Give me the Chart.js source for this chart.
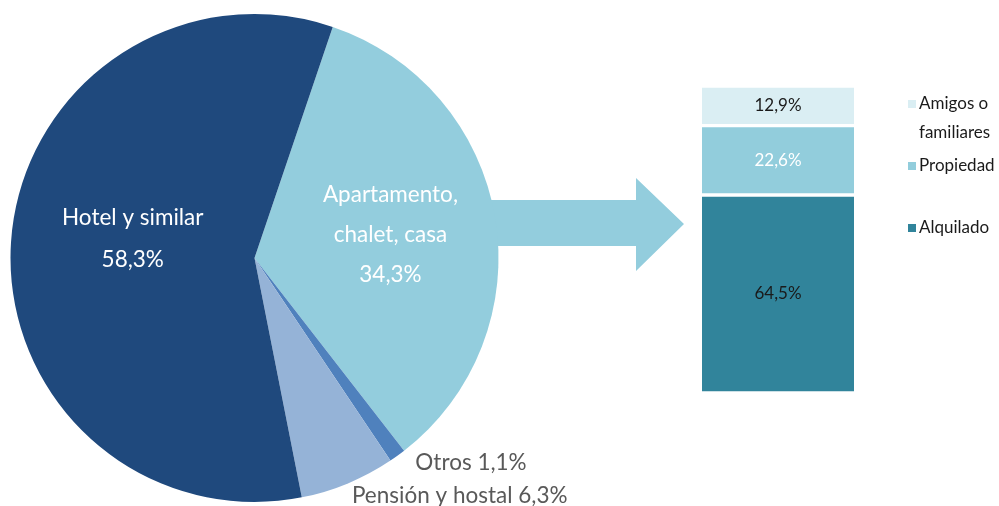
<!DOCTYPE html>
<html>
<head>
<meta charset="utf-8">
<script src="https://cdn.jsdelivr.net/npm/chart.js@4.4.1/dist/chart.umd.min.js"></script>
<style>
  html, body { margin: 0; padding: 0; background: #fff; }
  #wrap { position: relative; width: 999px; height: 506px; }
  #wrap canvas { position: absolute; left: 0; top: 0; }
</style>
</head>
<body>
<div id="wrap">
  <canvas id="pieChart" width="999" height="506"></canvas>
  <canvas id="barChart" width="999" height="506"></canvas>
</div>
<script>
// Alojamiento: tipo principal
const pieLabels = ['Apartamento, chalet, casa', 'Otros', 'Pensión y hostal', 'Hotel y similar'];
const pieValues = [34.3, 1.1, 6.3, 58.3];
const pieColors = ['#93cddd', '#4f81bd', '#95b3d7', '#1f497d'];

// Desglose de apartamento, chalet, casa
const barCategories = ['Apartamento, chalet, casa'];
const barLabels = ['Alquilado', 'Propiedad', 'Amigos o familiares'];
const barValues = [64.5, 22.6, 12.9];
const barColors = ['#31849b', '#92cddc', '#daeef3'];
const barTextColors = ['#1a1a1a', '#ffffff', '#1a1a1a'];

const FONT = 'Lato, "Source Sans Pro", "Noto Sans", sans-serif';
const fmt = v => v.toFixed(1).replace('.', ',') + '%';

// flecha entre la tarta y la barra
const arrowPlugin = {
  id: 'arrow',
  beforeDatasetsDraw(chart) {
    const ctx = chart.ctx;
    ctx.save();
    ctx.fillStyle = pieColors[0];
    ctx.beginPath();
    ctx.moveTo(470, 200);
    ctx.lineTo(636, 200);
    ctx.lineTo(636, 178);
    ctx.lineTo(684, 224);
    ctx.lineTo(636, 271);
    ctx.lineTo(636, 246);
    ctx.lineTo(470, 246);
    ctx.closePath();
    ctx.fill();
    ctx.restore();
  }
};

// etiquetas de la tarta
const pieLabelPlugin = {
  id: 'pieLabels',
  afterDatasetsDraw(chart) {
    const ctx = chart.ctx;
    const meta = chart.getDatasetMeta(0);
    ctx.save();
    meta.data.forEach((arc, i) => {
      const p = arc.getProps(['x', 'y', 'startAngle', 'endAngle', 'outerRadius'], true);
      const mid = (p.startAngle + p.endAngle) / 2;
      if (i === 0 || i === 3) {
        // dentro
        const f = i === 0 ? 0.565 : 0.5;
        const dy = i === 0 ? 0 : -11;
        const cx = p.x + Math.cos(mid) * p.outerRadius * f;
        const cy = p.y + Math.sin(mid) * p.outerRadius * f + dy;
        const lines = i === 0 ? ['Apartamento,', 'chalet, casa', fmt(pieValues[i])]
                               : ['Hotel y similar', fmt(pieValues[i])];
        const lh = i === 0 ? 40 : 42;
        ctx.fillStyle = '#ffffff';
        ctx.font = '22.5px ' + FONT;
        ctx.textAlign = 'center';
        ctx.textBaseline = 'middle';
        const y0 = cy - (lines.length - 1) * lh / 2;
        lines.forEach((t, k) => ctx.fillText(t, cx, y0 + k * lh));
      } else {
        // fuera
        const ex = p.x + Math.cos(mid) * p.outerRadius;
        const ey = p.y + Math.sin(mid) * p.outerRadius;
        const off = i === 1 ? [18, 7] : [4, 12];
        ctx.fillStyle = '#595959';
        ctx.font = '22.5px ' + FONT;
        ctx.textAlign = 'left';
        ctx.textBaseline = 'middle';
        ctx.fillText(pieLabels[i] + ' ' + fmt(pieValues[i]), ex + off[0], ey + off[1]);
      }
    });
    ctx.restore();
  }
};

new Chart(document.getElementById('pieChart'), {
  type: 'pie',
  data: {
    labels: pieLabels,
    datasets: [{
      data: pieValues,
      backgroundColor: pieColors,
      borderWidth: 0
    }]
  },
  options: {
    responsive: false,
    animation: false,
    rotation: 18.7,
    layout: { padding: { left: 10, right: 500, top: 14, bottom: 4 } },
    plugins: { legend: { display: false }, tooltip: { enabled: false } }
  },
  plugins: [arrowPlugin, pieLabelPlugin]
});

// valores dentro de la barra + leyenda a la derecha
const barTextPlugin = {
  id: 'barText',
  afterDatasetsDraw(chart) {
    const ctx = chart.ctx;
    ctx.save();
    ctx.font = '17px ' + FONT;
    ctx.textAlign = 'center';
    ctx.textBaseline = 'middle';
    chart.data.datasets.forEach((ds, i) => {
      const bar = chart.getDatasetMeta(i).data[0];
      const p = bar.getProps(['x', 'y', 'base'], true);
      ctx.fillStyle = barTextColors[i];
      ctx.fillText(fmt(ds.data[0]), p.x, (p.y + p.base) / 2);
    });

    // leyenda
    const lx = 908, items = [
      { i: 2, lines: ['Amigos o', 'familiares'], y: 104 },
      { i: 1, lines: ['Propiedad'], y: 166 },
      { i: 0, lines: ['Alquilado'], y: 228 }
    ];
    ctx.font = '17px ' + FONT;
    ctx.textAlign = 'left';
    items.forEach(it => {
      ctx.fillStyle = barColors[it.i];
      ctx.fillRect(lx, it.y - 4, 8, 8);
      ctx.fillStyle = '#1a1a1a';
      it.lines.forEach((t, k) => ctx.fillText(t, lx + 11, it.y + k * 29));
    });
    ctx.restore();
  }
};

new Chart(document.getElementById('barChart'), {
  type: 'bar',
  data: {
    labels: barCategories,
    datasets: barLabels.map((l, i) => ({
      label: l,
      data: [barValues[i]],
      backgroundColor: barColors[i],
      borderColor: '#ffffff',
      borderWidth: { top: 2, bottom: 2, left: 0, right: 0 },
      borderSkipped: false,
      barPercentage: 1,
      categoryPercentage: 1
    }))
  },
  options: {
    responsive: false,
    animation: false,
    layout: { padding: { left: 702, right: 145, top: 86, bottom: 113 } },
    scales: {
      x: { stacked: true, display: false },
      y: { stacked: true, display: false, min: 0, max: 100 }
    },
    plugins: { legend: { display: false }, tooltip: { enabled: false } }
  },
  plugins: [barTextPlugin]
});
</script>
</body>
</html>
